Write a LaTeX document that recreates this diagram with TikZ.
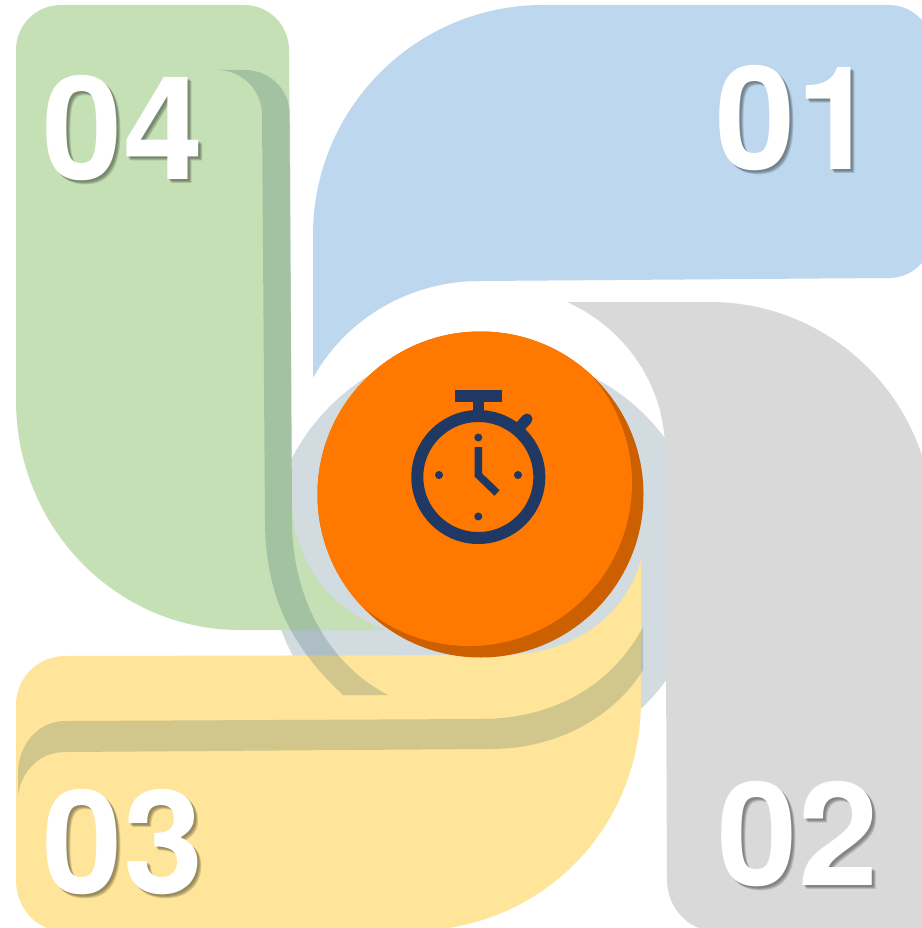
\documentclass[tikz,border=0pt]{standalone}
\usepackage{fontspec}
\setmainfont{TeX Gyre Heros}
\tikzset{
    numero/.style={font=\fontsize{144}{144}\selectfont\bfseries, text=white, inner sep=0pt},
    sombra/.style={font=\fontsize{144}{144}\selectfont\bfseries, text=black, text opacity=0.15, inner sep=0pt},
    faixa/.style={fill=faixacor, fill opacity=0.175},
    relogio/.style={draw=relogiocor, line width=7.5pt}
}
\definecolor{azul}{HTML}{BDD7EE}
\definecolor{cinza}{HTML}{D9D9D9}
\definecolor{verde}{HTML}{C5E0B4}
\definecolor{amarelo}{HTML}{FEE599}
\definecolor{halocor}{HTML}{D2DBDF}
\definecolor{faixacor}{HTML}{033A4F}
\definecolor{laranja}{HTML}{FF7800}
\definecolor{laranjaesc}{HTML}{CC6000}
\definecolor{relogiocor}{HTML}{203864}
\newcommand{\numerocanto}[3]{%
    \node[sombra] (#1s1) at (#2+2,#3+2) {#1};
    \node[sombra] (#1s2) at (#2+3,#3+3) {#1};
    \node[sombra] (#1s3) at (#2+4,#3+4) {#1};
    \node[numero] (#1) at (#2,#3) {#1};
}
\begin{document}
\begin{tikzpicture}[x=1pt, y=-1pt]
    \useasboundingbox (0,0) rectangle (921,928);
    \fill[white] (0,0) rectangle (921,928);

    % --- Halo atras do disco ---
    \fill[halocor] (480,556) circle[radius=212pt];
    \fill[halocor] (500,560) circle[radius=205pt];

    % --- Parte 01: azul ---
    \fill[azul] (313,378) -- (313,235) .. controls (313,108) and (416,5) .. (543,5)
        -- (889,5) .. controls (913,5) and (933,25) .. (933,49)
        -- (933,234) .. controls (933,258) and (913,278) .. (889,278)
        -- (480,281) .. controls (408,281) and (345,320) .. (313,378) -- cycle;

    % --- Parte 02: cinza ---
    \fill[cinza] (567,302) -- (710,302) .. controls (833,302) and (933,402) .. (933,525)
        -- (933,931) -- (715,931) .. controls (688,931) and (667,907) .. (667,880)
        -- (665,450) .. controls (665,385) and (625,328) .. (567,302) -- cycle;

    % --- Parte 04: verde ---
    \fill[verde] (16,50) .. controls (16,25) and (36,5) .. (61,5)
        -- (244,5) .. controls (269,5) and (289,25) .. (289,50)
        -- (292,500) .. controls (292,560) and (330,610) .. (385,630)
        -- (240,630) .. controls (116,630) and (16,527) .. (16,400) -- cycle;

    % --- Parte 03: amarelo ---
    \fill[amarelo] (65,656) -- (500,655) .. controls (570,656) and (625,618) .. (641,560)
        -- (641,700) .. controls (641,830) and (540,931) .. (410,931)
        -- (64,931) .. controls (36,931) and (16,908) .. (16,880)
        -- (16,705) .. controls (16,678) and (38,656) .. (65,656) -- cycle;

    % Faixas escuras
    \fill[faixa] (217,70) -- (245,70) .. controls (270,70) and (290,90) .. (290,115)
        -- (292,520) .. controls (292,600) and (330,665) .. (388,695)
        -- (343,695) .. controls (295,650) and (265,600) .. (265,520)
        -- (262,115) .. controls (262,90) and (242,70) .. (217,70) -- cycle;
    \fill[faixa] (18,795) -- (18,773) .. controls (18,745) and (38,721) .. (65,721)
        -- (480,719) .. controls (560,719) and (615,680) .. (643,627)
        -- (643,670) .. controls (615,715) and (560,749) .. (490,749)
        -- (65,752) .. controls (40,752) and (22,770) .. (18,795) -- cycle;

    % --- Disco central ---
    \fill[laranjaesc] (480.5,494.5) circle[radius=163pt];
    \begin{scope}
        \clip (480.5,494.5) circle[radius=163pt];
        \fill[laranja] (469,483) circle[radius=163pt];
    \end{scope}

    % --- Cronometro ---
    \draw[draw=relogiocor, line width=12pt] (478.3,477) circle[radius=61pt];
    \fill[relogiocor] (454.7,390) rectangle (502.3,402);
    \fill[relogiocor] (472.7,402) rectangle (484.3,414);
    \draw[draw=relogiocor, line width=11pt, line cap=round] (519,428) -- (527,419);
    \draw[relogio] (478.3,447) -- (478.3,475) -- (497,493);
    \foreach \px/\py in {478.3/437.5, 478.3/516.5, 439/475, 518/475}
        \fill[relogiocor] (\px,\py) circle[radius=4pt];

    % --- Numeros ---
    \numerocanto{01}{796}{118}
    \numerocanto{02}{798}{834}
    \numerocanto{03}{123}{842}
    \numerocanto{04}{123}{128}
\end{tikzpicture}
\end{document}
